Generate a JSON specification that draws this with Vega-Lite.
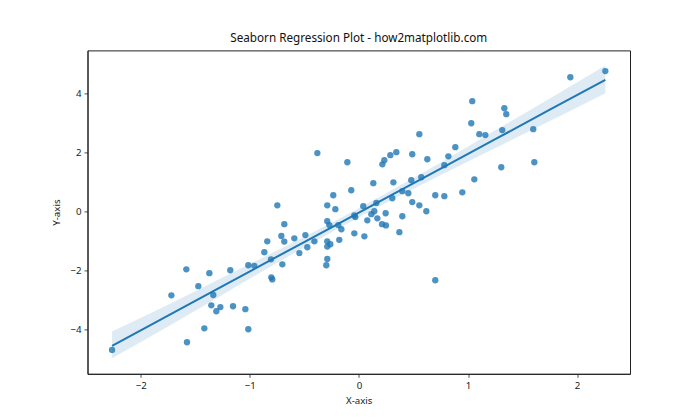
{
  "$schema": "https://vega.github.io/schema/vega-lite/v6.json",
  "width": 542.5,
  "height": 323.4,
  "autosize": {"type": "none"},
  "padding": {"left": 87.5, "top": 50.4, "right": 70, "bottom": 46.2},
  "background": "white",
  "config": {
    "view": {"stroke": "#222", "strokeWidth": 1},
    "font": "Noto Sans",
    "axis": {
      "grid": false,
      "domainColor": "#222",
      "domainWidth": 1,
      "tickColor": "#222",
      "tickSize": 3.5,
      "tickWidth": 0.8,
      "labelFont": "Noto Sans",
      "labelFontSize": 9.7,
      "labelColor": "#222",
      "labelPadding": 3,
      "titleFont": "Noto Sans",
      "titleFontSize": 9.7,
      "titleFontWeight": "normal",
      "titleColor": "#222"
    }
  },
  "title": {
    "text": "Seaborn Regression Plot - how2matplotlib.com",
    "font": "Noto Sans",
    "fontSize": 11.7,
    "fontWeight": "normal",
    "color": "#111",
    "anchor": "middle",
    "offset": 6
  },
  "datasets": {
    "pts": [
      {"x": -2.263, "y": -4.70}, {"x": -1.576, "y": -4.44}, {"x": -1.417, "y": -3.97}, {"x": -1.014, "y": -4.00},
      {"x": -1.719, "y": -2.85}, {"x": -1.582, "y": -1.97}, {"x": -1.472, "y": -2.54}, {"x": -1.371, "y": -2.10},
      {"x": -1.335, "y": -2.84}, {"x": -1.353, "y": -3.19}, {"x": -1.307, "y": -3.39}, {"x": -1.270, "y": -3.25},
      {"x": -1.154, "y": -3.22}, {"x": -1.041, "y": -3.32}, {"x": -1.179, "y": -2.00}, {"x": -1.014, "y": -1.83},
      {"x": -0.959, "y": -1.85}, {"x": -0.867, "y": -1.39}, {"x": -0.806, "y": -1.63}, {"x": -0.803, "y": -2.24},
      {"x": -0.794, "y": -2.31}, {"x": -0.702, "y": -1.80}, {"x": -0.840, "y": -1.02}, {"x": -0.684, "y": -1.03},
      {"x": -0.711, "y": -0.84}, {"x": -0.684, "y": -0.44}, {"x": -0.748, "y": 0.20}, {"x": -0.592, "y": -0.92},
      {"x": -0.546, "y": -1.42}, {"x": -0.491, "y": -0.81}, {"x": -0.473, "y": -1.22}, {"x": -0.408, "y": -1.02},
      {"x": -0.381, "y": 1.97}, {"x": -0.290, "y": -0.34}, {"x": -0.271, "y": -0.47}, {"x": -0.290, "y": 0.20},
      {"x": -0.216, "y": 0.07}, {"x": -0.235, "y": 0.54}, {"x": -0.290, "y": -1.02}, {"x": -0.290, "y": -1.20},
      {"x": -0.262, "y": -1.12}, {"x": -0.290, "y": -1.62}, {"x": -0.299, "y": -1.83}, {"x": -0.180, "y": -0.97},
      {"x": -0.189, "y": -0.47}, {"x": -0.161, "y": -0.61}, {"x": -0.106, "y": 1.66}, {"x": -0.070, "y": 0.71},
      {"x": -0.042, "y": -0.14}, {"x": -0.033, "y": -0.20}, {"x": -0.042, "y": -0.75}, {"x": 0.050, "y": -0.85},
      {"x": 0.077, "y": -0.31}, {"x": 0.040, "y": 0.17}, {"x": 0.114, "y": -0.10}, {"x": 0.141, "y": 0.00},
      {"x": 0.169, "y": -0.24}, {"x": 0.160, "y": 0.28}, {"x": 0.132, "y": 0.95}, {"x": 0.212, "y": -0.44},
      {"x": 0.248, "y": -0.48}, {"x": 0.245, "y": -0.07}, {"x": 0.306, "y": 0.44}, {"x": 0.316, "y": 0.98},
      {"x": 0.215, "y": 1.59}, {"x": 0.233, "y": 1.73}, {"x": 0.288, "y": 1.90}, {"x": 0.343, "y": 2.00},
      {"x": 0.371, "y": -0.71}, {"x": 0.398, "y": -0.17}, {"x": 0.398, "y": 0.68}, {"x": 0.453, "y": 0.61},
      {"x": 0.480, "y": 1.05}, {"x": 0.489, "y": 0.31}, {"x": 0.489, "y": 1.93}, {"x": 0.554, "y": 2.61},
      {"x": 0.554, "y": 0.20}, {"x": 0.572, "y": 1.15}, {"x": 0.618, "y": 0.00}, {"x": 0.627, "y": 1.76},
      {"x": 0.700, "y": 0.54}, {"x": 0.700, "y": -2.34}, {"x": 0.783, "y": 0.51}, {"x": 0.783, "y": 1.56},
      {"x": 0.820, "y": 1.86}, {"x": 0.884, "y": 2.17}, {"x": 0.948, "y": 0.64}, {"x": 1.030, "y": 2.98},
      {"x": 1.058, "y": 1.08}, {"x": 1.104, "y": 2.61}, {"x": 1.159, "y": 2.58}, {"x": 1.305, "y": 1.49},
      {"x": 1.314, "y": 2.75}, {"x": 1.039, "y": 3.73}, {"x": 1.333, "y": 3.49}, {"x": 1.351, "y": 3.29},
      {"x": 1.598, "y": 2.78}, {"x": 1.608, "y": 1.66}, {"x": 1.938, "y": 4.54}, {"x": 2.259, "y": 4.75}
    ],
    "fit": [
      {"x": -2.263, "y": -4.56, "lo": -4.98, "hi": -4.08},
      {"x": -1.75, "y": -3.54, "lo": -3.91, "hi": -3.17},
      {"x": -1.25, "y": -2.54, "lo": -2.83, "hi": -2.25},
      {"x": -0.75, "y": -1.54, "lo": -1.75, "hi": -1.33},
      {"x": -0.25, "y": -0.55, "lo": -0.71, "hi": -0.39},
      {"x": 0.25, "y": 0.45, "lo": 0.29, "hi": 0.61},
      {"x": 0.75, "y": 1.44, "lo": 1.23, "hi": 1.65},
      {"x": 1.25, "y": 2.44, "lo": 2.14, "hi": 2.74},
      {"x": 1.75, "y": 3.44, "lo": 3.06, "hi": 3.82},
      {"x": 2.259, "y": 4.45, "lo": 4.00, "hi": 4.94}
    ]
  },
  "layer": [
    {
      "data": {"name": "pts"},
      "mark": {"type": "point", "filled": true, "size": 40, "color": "#1f77b4", "opacity": 0.8, "strokeWidth": 0},
      "encoding": {
        "x": {"field": "x", "type": "quantitative", "scale": {"domain": [-2.488, 2.485], "nice": false, "zero": false},
              "axis": {"values": [-2, -1, 0, 1, 2], "format": "d", "title": "X-axis", "titlePadding": 5}},
        "y": {"field": "y", "type": "quantitative", "scale": {"domain": [-5.51, 5.45], "nice": false, "zero": false},
              "axis": {"values": [-4, -2, 0, 2, 4], "format": "d", "title": "Y-axis", "titlePadding": 8}}
      }
    },
    {
      "data": {"name": "fit"},
      "mark": {"type": "area", "color": "#1f77b4", "opacity": 0.15, "interpolate": "monotone"},
      "encoding": {
        "x": {"field": "x", "type": "quantitative", "scale": {"domain": [-2.488, 2.485], "nice": false, "zero": false}},
        "y": {"field": "lo", "type": "quantitative", "scale": {"domain": [-5.51, 5.45], "nice": false, "zero": false}},
        "y2": {"field": "hi"}
      }
    },
    {
      "data": {"name": "fit"},
      "mark": {"type": "line", "color": "#1f77b4", "strokeWidth": 2},
      "encoding": {
        "x": {"field": "x", "type": "quantitative", "scale": {"domain": [-2.488, 2.485], "nice": false, "zero": false}},
        "y": {"field": "y", "type": "quantitative", "scale": {"domain": [-5.51, 5.45], "nice": false, "zero": false}}
      }
    }
  ]
}
